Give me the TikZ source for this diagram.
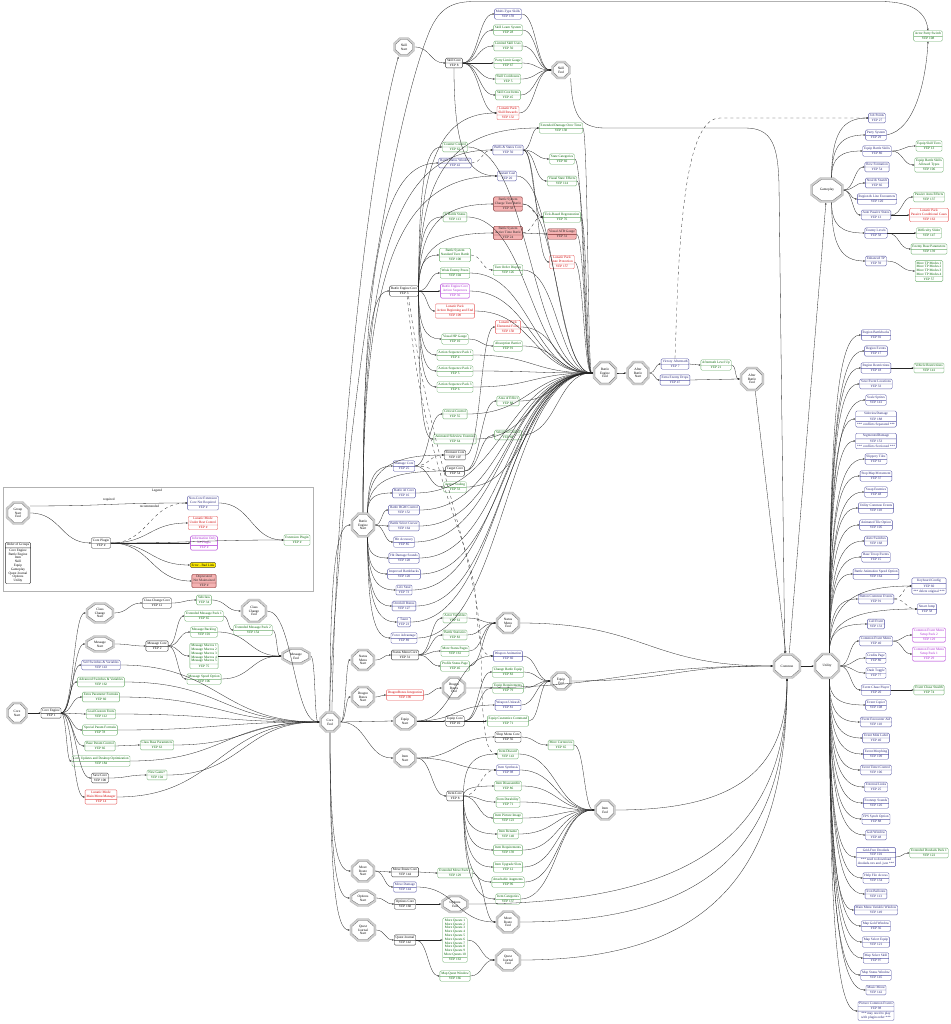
\documentclass[tikz,border=0pt]{standalone}
\usepackage{fontspec}
\setmainfont{Liberation Serif}
\usetikzlibrary{shapes.multipart,arrows.meta,calc}
\definecolor{ncb}{RGB}{85,85,165}
\definecolor{nct}{RGB}{35,35,120}
\definecolor{extb}{RGB}{110,175,110}
\definecolor{extt}{RGB}{0,100,0}
\definecolor{lunb}{RGB}{230,90,90}
\definecolor{lunt}{RGB}{210,0,0}
\definecolor{infb}{RGB}{170,40,210}
\definecolor{depb}{RGB}{120,40,40}
\definecolor{depf}{RGB}{244,178,178}
\definecolor{errf}{RGB}{255,235,0}
\newcommand\tfnt{\fontsize{3.4}{3.8}\selectfont}
\newcommand\Rc[6]{\node[#4] (#1) at (#2,#3) {#5\nodepart{two}YEP #6};}
\newcommand\Rt[7]{\node[#4,rectangle split parts=3] (#1) at (#2,#3) {#5\nodepart{two}YEP #6\nodepart{three}#7};}
\newcommand\octshape[5]{%
  \draw[#5] let \n1={#2/2-#4}, \n2={#3/2-#4}, \n3={0.29*#2-0.41*#4}, \n4={0.29*#3-0.41*#4} in
  ($(#1.center)+(-\n1+\n3,-\n2)$) -- ($(#1.center)+(\n1-\n3,-\n2)$) -- ($(#1.center)+(\n1,-\n2+\n4)$) -- ($(#1.center)+(\n1,\n2-\n4)$) -- ($(#1.center)+(\n1-\n3,\n2)$) -- ($(#1.center)+(-\n1+\n3,\n2)$) -- ($(#1.center)+(-\n1,\n2-\n4)$) -- ($(#1.center)+(-\n1,-\n2+\n4)$) -- cycle;}
\newcommand\Oc[6]{%
  \node[octn,minimum width=#4pt,minimum height=#5pt] (#1) at (#2,#3) {#6};
  \octshape{#1}{#4}{#5}{1}{draw=gray!38, line width=1.9pt, line join=miter}
  \octshape{#1}{#4}{#5}{0.1}{draw=gray!65, line width=0.25pt}
  \octshape{#1}{#4}{#5}{2.05}{draw=gray!75!black, line width=0.3pt}}
\tikzset{
  base/.style={rectangle split, rectangle split parts=2, rounded corners=1.2pt, draw, align=center, inner xsep=1.4pt, inner ysep=1.1pt, font=\tfnt, line width=0.35pt, fill=white},
  core/.style={base, draw=black!80, text=black},
  ncx/.style={base, draw=ncb, text=nct},
  ext/.style={base, draw=extb, text=extt},
  lun/.style={base, draw=lunb, text=lunt},
  inf/.style={base, draw=infb, text=infb},
  dep/.style={base, draw=depb, fill=depf, text=black!85},
  errb/.style={draw=black!70, fill=errf, rounded corners=1.2pt, font=\tfnt, inner xsep=1.4pt, inner ysep=1.4pt, text=black, line width=0.35pt},
  octn/.style={rectangle, inner sep=0.3pt, align=center, font=\tfnt},
  ar/.style={-{Stealth[length=2.1pt,width=1.5pt]}, line width=0.3pt, draw=black!85},
  hz/.style={to path={let \p1=(\tikztostart), \p2=(\tikztotarget), \n1={max(abs(\x2-\x1)*0.5,5)} in .. controls ([xshift=\n1]\p1) and ([xshift=-\n1]\p2) .. (\tikztotarget) \tikztonodes}},
  vt/.style={to path={let \p1=(\tikztostart), \p2=(\tikztotarget) in .. controls (\x1,{\y1+0.75*(\y2-\y1)}) and ({\x1+0.3*(\x2-\x1)},\y2) .. (\tikztotarget) \tikztonodes}},
  hv/.style={to path={let \p1=(\tikztostart), \p2=(\tikztotarget) in .. controls ({\x1+0.7*(\x2-\x1)},\y1) and (\x2,{\y1+0.3*(\y2-\y1)}) .. (\tikztotarget) \tikztonodes}},
}
\begin{document}
\begin{tikzpicture}[x=1pt,y=-1pt]
\useasboundingbox[fill=white] (0,0) rectangle (950,1024);
% ---------------- Legend
\draw[gray!60,line width=0.4pt] (3,487) rectangle (313,591);
\node[font=\tfnt] (lgT) at (157,491) {Legend};
\Oc{lgOct}{18}{513}{24}{23}{Group\\Start\\End}
\node[core] (lgOrd) at (18,563) {Order of Groups\nodepart{two}Core Engine\\Battle Engine\\Item\\Skill\\Equip\\Gameplay\\Quest Journal\\Options\\Utility};
\Rc{lgCore}{101}{543}{core}{Core Plugin}{\#}
\Rc{lgNon}{203}{503}{ncx}{Non-Core Extension\\Core Not Required}{\#}
\Rc{lgLun}{203}{523}{lun}{Lunatic Mode\\Under Best Control}{\#}
\Rc{lgInf}{204}{543}{inf}{Information Only\\No Plugin}{\#}
\node[errb] (lgErr) at (203,565) {Error - Bad Link};
\Rc{lgDep}{204}{581}{dep}{Deprecated\\Not Maintained}{\#}
\Rc{lgExt}{297}{540}{ext}{Extension Plugin}{\#}
% ---------------- Core
\Oc{coreS}{17}{713}{21}{22}{Core\\Start}
\Rc{coreEng}{51}{713}{core}{Core Engine}{1}
\Oc{ccS}{100}{613}{28}{21}{Class\\Change\\Start}
\Rc{ccCore}{157}{603}{core}{Class Change Core}{12}
\Rc{subcl}{204}{600}{ext}{Subclass}{34}
\Oc{ccE}{254}{611}{26}{24}{Class\\Change\\End}
\Oc{msgS}{100}{644}{29}{17}{Message\\Start}
\Rc{msgCore}{157}{646}{core}{Message Core}{2}
\Rc{emp1}{204}{616}{ext}{Extended Message Pack 1}{65}
\Rc{mbl}{204}{632}{ext}{Message Backlog}{101}
\Rc{mmac}{204}{656}{ext}{Message Macros 1\\Message Macros 2\\Message Macros 3\\Message Macros 4\\Message Macros 5}{75}
\Rc{mspd}{204}{679}{ext}{Message Speed Option}{106}
\Rc{emp2}{253}{630}{ext}{Extended Message Pack 2}{154}
\Oc{msgE}{296}{656}{29}{17}{Message\\End}
\Rc{ssv}{101}{665}{ncx}{Self Switches \& Variables}{143}
\Rc{asv}{101}{682}{ext}{Advanced Switches \& Variables}{162}
\Rc{epf}{101}{697}{ext}{Extra Parameter Formula}{60}
\Rc{lcf}{101}{714}{ext}{Load Custom Fonts}{112}
\Rc{spf}{100}{730}{ext}{Special Param Formula}{78}
\Rc{bpc}{100}{746}{ext}{Base Param Control}{66}
\Rc{cbp}{157}{745}{ext}{Class Base Parameters}{63}
\Rc{cud}{101}{761}{ext}{Core Updates and Desktop Optimization}{184}
\Rc{saveC}{100}{778}{core}{Save Core}{100}
\Rc{ngp}{157}{775}{ext}{New Game+}{104}
\Rc{lmm}{101}{797}{lun}{Lunatic Mode\\Main Menu Manager}{14}
\Oc{coreE}{330}{722}{21}{21}{Core\\End}
% ---------------- Skill
\Oc{skS}{404}{47}{21}{19}{Skill\\Start}
\Rc{skCore}{454}{63}{core}{Skill Core}{8}
\Rc{mts}{508}{14}{ncx}{Multi-Type Skills}{159}
\Rc{sls}{508}{30}{ext}{Skill Learn System}{28}
\Rc{lsu}{508}{46}{ext}{Limited Skill Uses}{50}
\Rc{plg}{508}{63}{ext}{Party Limit Gauge}{67}
\Rc{skcd}{508}{79}{ext}{Skill Cooldowns}{5}
\Rc{sci}{508}{95}{ext}{Skill Cost Items}{45}
\Rc{lpsr}{508}{113}{lun}{Lunatic Pack\\Skill Rewards}{132}
\Oc{skE}{561}{70}{19}{18}{Skill\\End}
% ---------------- Battle
\Oc{beS}{363}{525}{24}{25}{Battle\\Engine\\Start}
\Rc{beCore}{404}{291}{core}{Battle Engine Core}{3}
\Rc{edot}{561}{128}{ext}{Extended Damage Over Time}{138}
\Rc{cctl}{455}{147}{ext}{Counter Control}{62}
\Rc{bsc}{508}{150}{ncx}{Buffs \& States Core}{50}
\Rc{bsw}{455}{163}{ncx}{Battle Status Window}{42}
\Rc{stc}{562}{159}{ext}{State Categories}{60}
\Rc{instC}{507}{176}{ncx}{Instant Cast}{20}
\Rc{vse}{562}{181}{ext}{Visual State Effects}{114}
\Rc{ctb}{508}{204}{dep}{Battle System\\Charge Turn Battle}{38}
\Rc{tbr}{562}{217}{ext}{Tick-Based Regeneration}{76}
\Rc{ibs}{455}{217}{ext}{In Battle Status}{113}
\Rc{atb}{508}{233}{dep}{Battle System\\Active Time Battle}{24}
\Rc{vatb}{562}{234}{dep}{Visual ATB Gauge}{31}
\Rc{stb}{455}{255}{ext}{Battle System\\Standard Turn Battle}{100}
\Rc{lpsp}{562}{262}{lun}{Lunatic Pack\\State Protection}{157}
\Rc{tod}{508}{270}{ext}{Turn Order Display}{126}
\Rc{wep}{455}{273}{ext}{Weak Enemy Poses}{104}
\Rc{beas}{455}{291}{inf}{Battle Engine Core\\Action Sequences}{36}
\Rc{lpab}{455}{311}{lun}{Lunatic Pack\\Action Beginning and End}{109}
\Rc{lpef}{508}{327}{lun}{Lunatic Pack\\Elemental Force}{158}
\Rc{vhp}{455}{339}{ext}{Visual HP Gauge}{10}
\Rc{absb}{508}{346}{ext}{Absorption Barrier}{91}
\Rc{asp1}{455}{355}{ext}{Action Sequence Pack 1}{4}
\Rc{asp2}{455}{371}{ext}{Action Sequence Pack 2}{5}
\Rc{asp3}{455}{387}{ext}{Action Sequence Pack 3}{6}
\Oc{beE}{605}{373}{24}{24}{Battle\\Engine\\End}
\Rc{aoe}{508}{401}{ext}{Area of Effect}{88}
\Rc{crc}{455}{414}{ext}{Critical Control}{55}
\Rc{ase}{455}{439}{ext}{Animated Sideview Enemies}{64}
\Rc{selc}{508}{435}{ext}{Selection Control}{68}
\Rc{elc}{455}{455}{core}{Element Core}{107}
\Rc{dmc}{404}{466}{ncx}{Damage Core}{25}
\Rc{tgc}{455}{471}{core}{Target Core}{54}
\Rc{arms}{455}{487}{ext}{Armor Scaling}{33}
\Rc{bai}{404}{493}{ncx}{Battle AI Core}{16}
\Rc{bgm}{404}{510}{ncx}{Battle BGM Control}{152}
\Rc{bscur}{404}{526}{ncx}{Battle Select Cursor}{164}
\Rc{hacc}{404}{542}{ncx}{Hit Accuracy}{85}
\Rc{hds}{404}{558}{ncx}{Hit Damage Sounds}{128}
\Rc{ibb}{404}{574}{ncx}{Improved Battlebacks}{120}
\Rc{lst}{404}{590}{ncx}{Life Steal}{73}
\Rc{okb}{404}{606}{ncx}{Overkill Bonus}{127}
\Rc{taunt}{404}{622}{ncx}{Taunt}{23}
\Rc{fadv}{404}{638}{ncx}{Force Advantage}{89}
\Oc{abS}{638}{373}{23}{24}{After\\Battle\\Start}
\Rc{vam}{675}{364}{ncx}{Victory Aftermath}{7}
\Rc{eed}{675}{380}{ncx}{Extra Enemy Drops}{47}
\Rc{alu}{716}{365}{ext}{Aftermath Level Up}{21}
\Oc{abE}{752}{379}{24}{24}{After\\Battle\\End}
% ---------------- Status / Dragon
\Oc{smS}{363}{660}{24}{22}{Status\\Menu\\Start}
\Rc{smCore}{405}{655}{core}{Status Menu Core}{31}
\Rc{avar}{455}{618}{ext}{Actor Variables}{61}
\Rc{bstat}{455}{635}{ext}{Battle Statistics}{83}
\Rc{msp}{455}{651}{ext}{More Status Pages}{161}
\Rc{psp}{455}{666}{ext}{Profile Status Page}{46}
\Oc{smE}{508}{623}{24}{22}{Status\\Menu\\End}
\Oc{dbS}{363}{697}{24}{22}{Dragon\\Bones\\Start}
\Rc{dbi}{405}{695}{lun}{DragonBones Integration}{190}
\Oc{dbE}{454}{688}{24}{23}{Dragon\\Bones\\End}
% ---------------- Equip
\Oc{eqS}{405}{721}{23}{19}{Equip\\Start}
\Rc{eqCore}{455}{721}{core}{Equip Core}{10}
\Rc{wani}{508}{656}{ncx}{Weapon Animation}{60}
\Rc{cbe}{508}{672}{ext}{Change Battle Equip}{83}
\Rc{eqreq}{508}{688}{ext}{Equip Requirements}{79}
\Rc{wunl}{508}{705}{ncx}{Weapon Unleash}{81}
\Rc{ecc}{508}{721}{ext}{Equip Customize Command}{71}
\Oc{eqE}{561}{681}{21}{19}{Equip\\End}
% ---------------- Item
\Oc{itS}{405}{758}{23}{20}{Item\\Start}
\Rc{smc}{508}{737}{core}{Shop Menu Core}{56}
\Rc{mcur}{561}{745}{ext}{More Currencies}{65}
\Rc{idis}{508}{754}{ext}{Item Discard}{143}
\Rc{isyn}{508}{770}{ncx}{Item Synthesis}{98}
\Rc{idsa}{508}{786}{ext}{Item Disassemble}{86}
\Rc{itCore}{455}{796}{core}{Item Core}{8}
\Rc{idur}{508}{802}{ext}{Item Durability}{71}
\Rc{ipi}{508}{818}{ext}{Item Picture Image}{123}
\Rc{iren}{508}{834}{ext}{Item Rename}{140}
\Rc{ireq}{508}{850}{ext}{Item Requirements}{139}
\Rc{ius}{508}{867}{ext}{Item Upgrade Slots}{12}
\Rc{aaug}{508}{882}{ext}{Attachable Augments}{96}
\Rc{icat}{508}{899}{ext}{Item Categories}{137}
\Oc{itE}{605}{810}{21}{21}{Item\\End}
% ---------------- Move / Options / Quest
\Oc{mrS}{363}{871}{24}{23}{Move\\Route\\Start}
\Rc{mrCore}{405}{872}{core}{Move Route Core}{144}
\Rc{mdmg}{405}{887}{ncx}{Move Damage}{144}
\Rc{emp}{455}{873}{ext}{Extended Move Pack 1}{129}
\Oc{mrE}{508}{922}{24}{23}{Move\\Route\\End}
\Oc{opS}{363}{898}{26}{17}{Options\\Start}
\Rc{opCore}{405}{904}{core}{Options Core}{168}
\Oc{opE}{455}{904}{27}{18}{Options\\End}
\Oc{qjS}{363}{930}{26}{23}{Quest\\Journal\\Start}
\Rc{qj}{405}{940}{core}{Quest Journal}{142}
\Rc{mq}{455}{940}{ext}{More Quests 1\\More Quests 2\\More Quests 3\\More Quests 4\\More Quests 5\\More Quests 6\\More Quests 7\\More Quests 8\\More Quests 9\\More Quests 10}{163}
\Rc{mqw}{455}{976}{ext}{Map Quest Window}{166}
\Oc{qjE}{508}{960}{26}{23}{Quest\\Journal\\End}
% ---------------- Common / Gameplay / Utility
\Oc{common}{787}{666}{28}{25}{Common}
\Oc{ut}{827}{666}{26}{26}{Utility}
\Oc{gp}{827}{190}{33}{25}{Gameplay}
\Rc{apsw}{928}{36}{ext}{Actor Party Switch}{108}
\Rc{jobp}{877}{118}{ncx}{Job Points}{27}
\Rc{psys}{876}{135}{ncx}{Party System}{29}
\Rc{ebs}{877}{151}{ncx}{Equip Battle Skills}{80}
\Rc{rowf}{877}{167}{ncx}{Row Formation}{54}
\Rc{steal}{877}{183}{ncx}{Steal \& Snatch}{66}
\Rc{rle}{877}{199}{ncx}{Region \& Line Encounters}{120}
\Rc{aps}{876}{215}{ncx}{Auto Passive States}{13}
\Rc{enl}{876}{233}{ncx}{Enemy Levels}{58}
\Rc{etp}{876}{261}{ncx}{Enhanced TP}{59}
\Rc{est}{929}{146}{ext}{Equip Skill Tiers}{13}
\Rc{ebsat}{929}{165}{ext}{Equip Battle Skills\\Allowed Types}{106}
\Rc{pae}{929}{197}{ext}{Passive Aura Effects}{137}
\Rc{lppc}{929}{215}{lun}{Lunatic Pack\\Passive Conditional Cases}{163}
\Rc{dsl}{929}{233}{ext}{Difficulty Slider}{147}
\Rc{ebp}{929}{249}{ext}{Enemy Base Parameters}{139}
\Rc{mtp}{929}{271}{ext}{More TP Modes 1\\More TP Modes 2\\More TP Modes 3\\More TP Modes 4}{57}
\Rc{rbb}{876}{335}{ncx}{Region Battlebacks}{92}
\Rc{rev}{876}{351}{ncx}{Region Events}{17}
\Rc{rres}{876}{368}{ncx}{Region Restrictions}{18}
\Rc{vres}{929}{368}{ext}{Vehicle Restrictions}{141}
\Rc{sel}{876}{384}{ncx}{Save Event Locations}{33}
\Rc{scs}{876}{400}{ncx}{Scale Sprites}{141}
\Rt{sdng}{876}{419}{ncx}{SideviewDamage}{188}{*** conflicts Separated ***}
\Rt{sgd}{876}{441}{ncx}{SegmentedDamage}{153}{*** conflicts Sectioned ***}
\Rc{slip}{876}{459}{ncx}{Slippery Tiles}{61}
\Rc{smm}{876}{476}{ncx}{Stop Map Movement}{37}
\Rc{swe}{876}{492}{ncx}{Swap Enemies}{48}
\Rc{uce}{876}{508}{ncx}{Utility Common Events}{118}
\Rc{ato}{876}{525}{ncx}{Animated Tile Option}{105}
\Rc{asw}{876}{541}{ncx}{Auto Switches}{168}
\Rc{bte}{876}{557}{ncx}{Base Troop Events}{15}
\Rc{baso}{876}{574}{ncx}{Battle Animation Speed Option}{164}
\Rc{bce}{876}{599}{ncx}{Button Common Events}{91}
\Rt{kbc}{929}{586}{ncx}{Keyboard Config}{60}{*** delete original ***}
\Rc{sjump}{927}{609}{ncx}{Smart Jump}{58}
\Rc{cev}{876}{624}{ncx}{Call Event}{133}
\Rc{cem}{876}{641}{ncx}{Common Event Menu}{40}
\Rc{cem2}{929}{635}{inf}{Common Event Menu\\Setup Pack 2}{129}
\Rc{cem1}{929}{654}{inf}{Common Event Menu\\Setup Pack 1}{29}
\Rc{crp}{876}{658}{ncx}{Credits Page}{80}
\Rc{dtog}{876}{673}{ncx}{Dash Toggle}{77}
\Rc{ecp}{876}{690}{ncx}{Event Chase Player}{20}
\Rc{ecs}{929}{690}{ext}{Event Chase Stealth}{74}
\Rc{ecop}{876}{705}{ncx}{Event Copier}{108}
\Rc{eea}{876}{722}{ncx}{Event Encounter Aid}{118}
\Rc{eml}{876}{738}{ncx}{Event Mini Label}{40}
\Rc{emor}{876}{754}{ncx}{Event Morphing}{109}
\Rc{etctl}{876}{770}{ncx}{Event Timer Control}{106}
\Rc{exl}{876}{787}{ncx}{External Links}{25}
\Rc{fss}{876}{803}{ncx}{Footstep Sounds}{126}
\Rc{fps}{876}{819}{ncx}{FPS Synch Option}{88}
\Rc{gabw}{876}{835}{ncx}{Gab Window}{48}
\Rt{gfd}{876}{857}{ncx}{Grid-Free Doodads}{101}{*** need to download\\doodads.xxx and .json ***}
\Rc{edp}{929}{853}{ext}{Extended Doodads Pack 1}{122}
\Rc{hfa}{876}{878}{ncx}{Help File Access}{134}
\Rc{ibal}{876}{894}{ncx}{Icon Balloons}{113}
\Rc{mmvw}{876}{910}{ncx}{Main Menu Variable Window}{149}
\Rc{mgw}{876}{926}{ncx}{Map Gold Window}{36}
\Rc{mse}{876}{942}{ncx}{Map Select Equip}{121}
\Rc{mss}{876}{958}{ncx}{Map Select Skill}{97}
\Rc{msw}{876}{975}{ncx}{Map Status Window}{145}
\Rc{mmenu}{876}{990}{ncx}{Music Menu}{142}
\Rt{pce}{876}{1011}{ncx}{Picture Common Events}{98}{*** may need to play\\with plugin order ***}
% ================= Edges
\foreach \a/\b in {coreS/coreEng, coreEng/ccS, coreEng/msgS, coreEng/ssv, coreEng/asv, coreEng/epf, coreEng/lcf, coreEng/spf, coreEng/bpc, coreEng/cud, coreEng/saveC, coreEng/lmm, ccS/ccCore, ccCore/subcl, subcl/ccE, ccE/coreE, msgS/msgCore, msgCore/emp1, msgCore/mbl, msgCore/mmac, msgCore/mspd, emp1/emp2, emp2/msgE, mbl/msgE, mmac/msgE, mspd/msgE, msgE/coreE, ssv/coreE, asv/coreE, epf/coreE, lcf/coreE, spf/coreE, bpc/cbp, cbp/coreE, cud/coreE, saveC/ngp, ngp/coreE, lmm/coreE, coreE/smS, coreE/dbS, coreE/eqS, coreE/itS,
 skS/skCore, skCore/mts, skCore/sls, skCore/lsu, skCore/plg, skCore/skcd, skCore/sci, skCore/lpsr, mts/skE, sls/skE, lsu/skE, plg/skE, skcd/skE, sci/skE, lpsr/skE,
 beS/bgm, beS/bscur, beS/hacc, beCore/wep, beCore/beas, beCore/lpab,
 bsc/edot, bsc/stc, bsc/vse, bsc/tbr, bsc/lpsp, atb/vatb, dmc/crc, dmc/arms, tgc/selc, tgc/aoe, elc/lpef, vhp/absb,
 edot/beE, stc/beE, vse/beE, tbr/beE, vatb/beE, lpsp/beE, tod/beE, instC/beE, cctl/beE, ibs/beE, wep/beE, beas/beE, lpab/beE, lpef/beE, absb/beE, asp1/beE, asp2/beE, asp3/beE, aoe/beE, crc/beE, ase/beE, selc/beE, arms/beE, bai/beE, bgm/beE, bscur/beE, hacc/beE, hds/beE, ibb/beE, lst/beE, okb/beE, taunt/beE, fadv/beE, ctb/beE,
 beE/abS, abS/vam, abS/eed, vam/alu, alu/abE, eed/abE,
 smS/smCore, smCore/avar, smCore/bstat, smCore/msp, smCore/psp, avar/smE, bstat/smE, msp/smE, psp/smE,
 dbS/dbi, dbi/dbE,
 eqS/eqCore, eqS/wani, eqS/wunl, eqCore/cbe, eqCore/eqreq, eqCore/ecc, wani/eqE, cbe/eqE, eqreq/eqE, wunl/eqE, ecc/eqE,
 itS/smc, itS/isyn, itS/itCore, smc/mcur, itCore/idur, itCore/ipi, mcur/itE, idis/itE, isyn/itE, idsa/itE, idur/itE, ipi/itE, iren/itE, ireq/itE, ius/itE, aaug/itE, icat/itE,
 mrS/mrCore, mrS/mdmg, mrCore/emp, emp/mrE, mdmg/mrE, opS/opCore, opCore/opE, qjS/qj, qj/mq, qj/mqw, mq/qjE, mqw/qjE,
 smE/common, dbE/common, eqE/common, common/ut,
 gp/rowf, gp/steal, gp/rle, gp/aps, ebs/est, ebs/ebsat, aps/pae, aps/lppc, enl/dsl, enl/ebp, etp/mtp,
 ut/cem, ut/crp, ut/dtog, ut/ecp, rres/vres, cem/cem2, cem/cem1, ecp/ecs, gfd/edp,
 lgOct/lgCore, lgCore/lgLun, lgCore/lgInf, lgCore/lgErr, lgCore/lgDep, lgCore/lgExt, lgNon/lgExt}
 \draw[ar] (\a.east) to[hz] (\b.west);
\foreach \a/\b in {bsw/bsc, ctb/tbr, atb/tbr, stb/tod, dmc/elc, dmc/tgc, itCore/isyn, bce/kbc, bce/sjump}
 \draw[ar,dashed] (\a.east) to[hz] (\b.west);
\draw[ar] (lgOct.30) to[hz] node[pos=0.5,above=0.2pt,font=\tfnt,text=black]{required} (lgNon.west);
\draw[ar,dashed] (lgCore.east) to[hz] node[pos=0.72,above left=0pt,font=\tfnt,text=black]{recommended} (lgNon.west);
% vertical fans
\foreach \b in {beCore, bsc, bsw, instC} \draw[ar] (beS.north) to[vt] (\b.west);
\foreach \b in {dmc, elc, tgc, bai} \draw[ar] (beS.70) to[vt] (\b.west);
\foreach \b in {hds, ibb, lst, okb, taunt, fadv} \draw[ar] (beS.-70) to[vt] (\b.west);
\foreach \b in {cctl, ibs, ctb, atb, stb, edot, lpsr, vhp, asp1, asp2, asp3, ase} \draw[ar] (beCore.east) to[vt] (\b.west);
\foreach \b in {idis, idsa, iren, ireq, ius, aaug, icat} \draw[ar] (itCore.east) to[vt] (\b.west);
\foreach \b in {rbb, rev, rres, sel, scs, sdng, sgd, slip, smm, swe, uce, ato, asw, bte, baso, kbc, bce, sjump, cev} \draw[ar] (ut.80) to[vt] (\b.west);
\foreach \b in {ecop, eea, eml, emor, etctl, exl, fss, fps, gabw, gfd, hfa, ibal, mmvw, mgw, mse, mss, msw, mmenu, pce} \draw[ar] (ut.-80) to[vt] (\b.west);
\foreach \b in {jobp, psys, ebs} \draw[ar] (gp.70) to[vt] (\b.west);
\foreach \b in {enl, etp} \draw[ar] (gp.-70) to[vt] (\b.west);
\foreach \b in {mrS, opS, qjS} \draw[ar] (coreE.south) to[vt] (\b.west);
\draw[ar] (coreE.north) to[vt] (beS.west);
\draw[ar] (skCore.south) to[vt] (instC.west);
\foreach \a in {itE, mrE, opE, qjE} \draw[ar] (\a.east) to[hv] (common.south);
% special routes
\draw[ar] (coreE.80) .. controls (338,420) and (372,150) .. (skS.-120);
\draw[ar] (coreE.95) .. controls (343,420) and (392,120) .. (430,30) .. controls (440,8) and (452,1.5) .. (475,1.5) -- (880,1.5) .. controls (912,1.5) and (926,12) .. (apsw.north);
\draw[ar] (skE.-40) .. controls (572,115) and (580,128) .. (605,128) -- (745,128) .. controls (772,128) and (778,145) .. (779,185) -- (common.100);
\draw[ar] (abE.-75) -- (common.95);
\draw[ar] (common.80) -- (gp.-95);
\draw[ar] (psys.east) .. controls (915,130) and (926,80) .. (apsw.south);
\draw[ar,dashed] (vam.north) -- (676,330) .. controls (680,200) and (690,118) .. (720,118) -- (jobp.west);
\draw[ar,dashed] (beCore.-60) .. controls (425,480) and (472,540) .. (476,600) .. controls (478,640) and (481,656) .. (wani.west);
\draw[ar,dashed] (beCore.-50) .. controls (432,470) and (479,560) .. (481,650) .. controls (482,720) and (484,754) .. (idis.west);
\end{tikzpicture}
\end{document}
